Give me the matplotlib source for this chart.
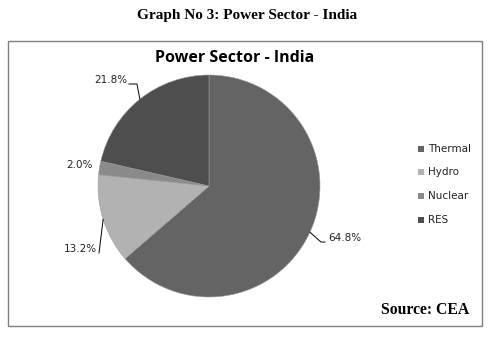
import numpy as np
import matplotlib
matplotlib.use("Agg")
import matplotlib.pyplot as plt
from matplotlib.patches import Rectangle

categories = ["Thermal", "Hydro", "Nuclear", "RES"]
values = [64.8, 13.2, 2.0, 21.8]
labels = ["64.8%", "13.2%", "2.0%", "21.8%"]
colors = ["#646464", "#b2b2b2", "#8a8a8a", "#4e4e4e"]

W, H = 494, 338
fig = plt.figure(figsize=(W / 100, H / 100), dpi=100)

def fx(x):
    return x / W

def fy(y):
    return 1 - y / H

# outer border of chart area
fig.patches.append(Rectangle((fx(8), fy(326)), fx(482) - fx(8), fy(41) - fy(326),
                             transform=fig.transFigure, fill=False,
                             edgecolor="#808080", linewidth=1.0))

fig.text(0.5, fy(16), "Graph No 3: Power Sector - India", ha="center", va="center",
         fontsize=11, fontweight="bold", family="Liberation Serif")
fig.text(fx(235), fy(58), "Power Sector - India", ha="center", va="center",
         fontsize=11.5, fontweight="bold", family="Open Sans")
fig.text(fx(425.5), fy(310), "Source: CEA", ha="center", va="center",
         fontsize=11.3, fontweight="bold", family="Liberation Serif")

cx, cy, r = 209, 186, 111
ax = fig.add_axes([fx(cx - r), fy(cy + r), 2 * r / W, 2 * r / H])
wedges, _ = ax.pie(values, colors=colors, startangle=90, counterclock=False,
                   radius=1.0, wedgeprops=dict(edgecolor="#9c9c9c", linewidth=0.4))
ax.set_xlim(-1, 1)
ax.set_ylim(-1, 1)
ax.set_aspect("auto")
ax.axis("off")

lab_font = dict(fontsize=7.5, family="DejaVu Sans", color="#222222")
lk = dict(color="black", lw=0.7, clip_on=False)
for i, w in enumerate(wedges):
    ang = np.deg2rad((w.theta1 + w.theta2) / 2)
    ex, ey = np.cos(ang), np.sin(ang)
    if i == 0:
        ax.plot([ex, 1.009, 1.045], [ey, -0.505, -0.505], **lk)
        ax.text(1.072, -0.47, labels[i], ha="left", va="center", clip_on=False, **lab_font)
    elif i == 1:
        ax.plot([ex, -0.991], [ey, -0.604], **lk)
        ax.text(-1.009, -0.568, labels[i], ha="right", va="center", clip_on=False, **lab_font)
    elif i == 2:
        ax.text(-1.045, 0.189, labels[i], ha="right", va="center", clip_on=False, **lab_font)
    else:
        ax.plot([-0.721, -0.649, ex], [0.919, 0.919, ey], **lk)
        ax.text(-0.739, 0.955, labels[i], ha="right", va="center", clip_on=False, **lab_font)

# legend
leg_y = [149, 172, 196, 220]
for name, col, y in zip(categories, colors, leg_y):
    fig.patches.append(Rectangle((fx(418), fy(y + 3)), 6 / W, 6 / H,
                                 transform=fig.transFigure, facecolor=col, edgecolor="none"))
    fig.text(fx(428), fy(y), name, ha="left", va="center", fontsize=7.5,
             family="DejaVu Sans", color="#222222")

fig.savefig("out.png", dpi=100, facecolor="white")
